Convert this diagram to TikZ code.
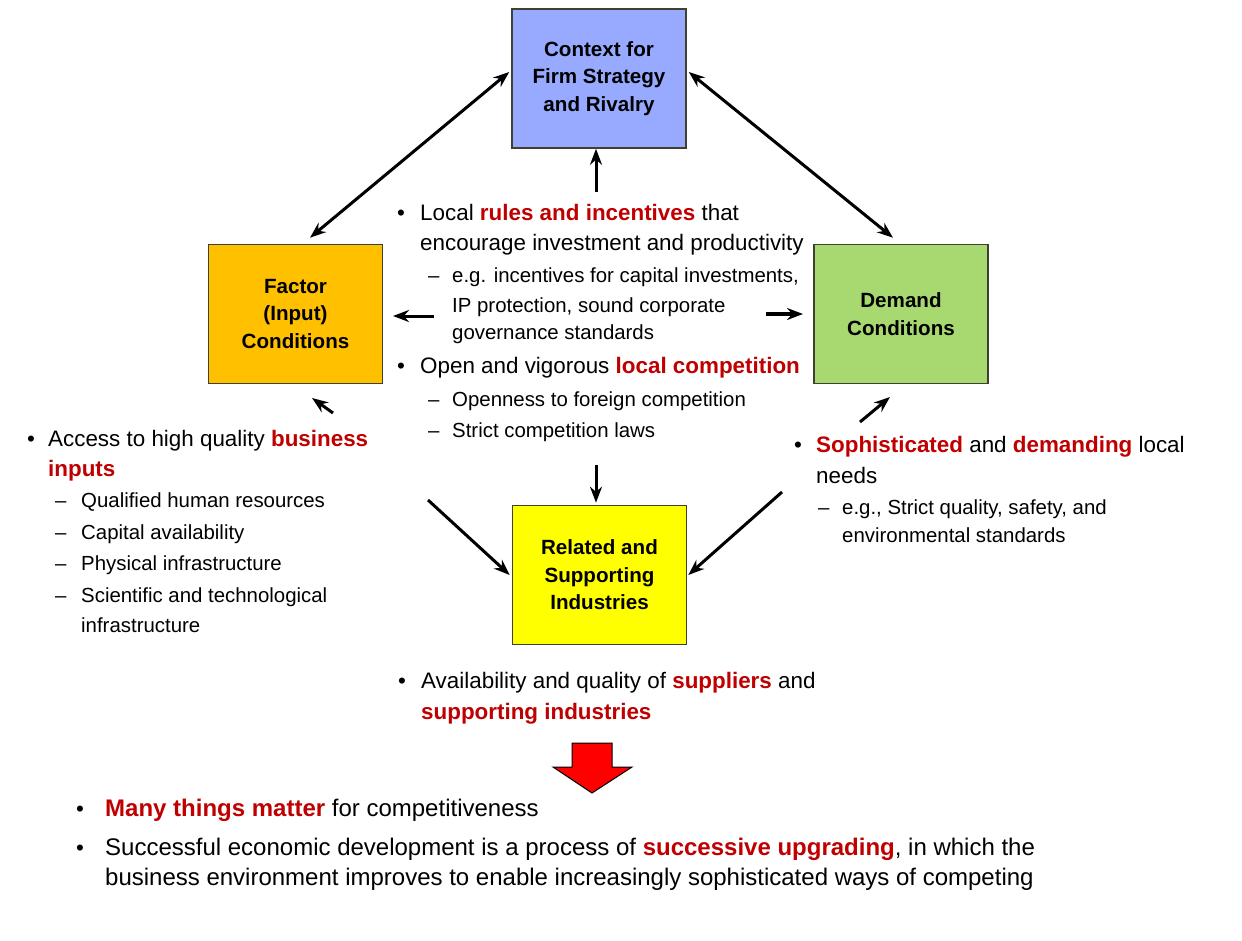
\documentclass[tikz,border=0pt]{standalone}
\usepackage{fontspec}
\setmainfont{Liberation Sans}
\usetikzlibrary{arrows.meta}
\definecolor{hlred}{RGB}{192,0,0}
\definecolor{ctxblue}{RGB}{151,170,255}
\definecolor{facorange}{RGB}{255,192,0}
\definecolor{demgreen}{RGB}{168,216,112}
\definecolor{relyellow}{RGB}{255,255,0}
\definecolor{boxline}{RGB}{64,64,48}
\newcommand{\redb}[1]{\textcolor{hlred}{\textbf{#1}}}
\begin{document}
\begin{tikzpicture}[x=1pt,y=-1pt,
  box/.style={draw=boxline, line width=1.6pt, align=center, inner sep=0pt,
    minimum width=174pt, minimum height=139pt,
    font=\fontsize{20.6}{27.5}\selectfont\bfseries},
  arr/.style={line width=3pt, -{Stealth[length=16pt,width=12pt]}},
  darr/.style={line width=3pt, {Stealth[length=16pt,width=12pt]}-{Stealth[length=16pt,width=12pt]}},
  tmain/.style={anchor=base west, inner sep=0pt, font=\fontsize{22.4}{27}\selectfont},
  tsub/.style={anchor=base west, inner sep=0pt, font=\fontsize{20.4}{25}\selectfont},
  tbot/.style={anchor=base west, inner sep=0pt, font=\fontsize{24}{29}\selectfont},
]
\useasboundingbox (0,0) rectangle (1242,940);

% boxes
\node[box, fill=ctxblue] (ctx) at (599,78.5) {Context for\\Firm Strategy\\and Rivalry};
\node[box, fill=facorange] (fac) at (295.5,314) {Factor\\(Input)\\Conditions};
\node[box, fill=demgreen] (dem) at (901,314) {Demand\\Conditions};
\node[box, fill=relyellow] (rel) at (599.5,575) {Related and\\Supporting\\Industries};

% free ends of connectors
\coordinate (upTail) at (596,192);
\coordinate (leftTail) at (434,316);
\coordinate (leftTip) at (393,316);
\coordinate (rightTail) at (766,314);
\coordinate (rightTip) at (803,314);
\coordinate (facTail) at (333,413);
\coordinate (facTip) at (312,398);
\coordinate (demTail) at (860,422);
\coordinate (demTip) at (890,397);
\coordinate (downTail) at (596,465);
\coordinate (ldTail) at (428,500);
\coordinate (rdTail) at (782,492);

% connectors
\draw[darr] ([xshift=14.5pt,yshift=6pt]fac.north) -- ([xshift=-2pt,yshift=6.5pt]ctx.west);
\draw[darr] ([xshift=2pt,yshift=6.5pt]ctx.east) -- ([xshift=-8pt,yshift=6pt]dem.north);
\draw[arr] (upTail) -- ([xshift=-3pt]ctx.south);
\draw[arr] (leftTail) -- (leftTip);
\draw[arr, line width=4.5pt] (rightTail) -- (rightTip);
\draw[arr] (facTail) -- (facTip);
\draw[arr] (demTail) -- (demTip);
\draw[arr] (downTail) -- ([xshift=-3.5pt,yshift=2pt]rel.north);
\draw[arr] (ldTail) -- ([xshift=-2pt]rel.west);
\draw[arr] (rdTail) -- ([xshift=1pt]rel.east);

% middle text
\node[tmain] (mb1) at (397,220) {\textbullet};
\node[tmain] (m1) at (420,220) {Local \redb{rules and incentives} that};
\node[tmain] (m2) at (420,250) {encourage investment and productivity};
\node[tsub] (md1) at (428,282) {–};
\node[tsub] (m3) at (452,282) {e.g. incentives for capital investments,};
\node[tsub] (m4) at (452,312) {IP protection, sound corporate};
\node[tsub] (m5) at (452,339) {governance standards};
\node[tmain] (mb2) at (397,373) {\textbullet};
\node[tmain] (m6) at (420,373) {Open and vigorous \redb{local competition}};
\node[tsub] (md2) at (428,406) {–};
\node[tsub] (m7) at (452,406) {Openness to foreign competition};
\node[tsub] (md3) at (428,437) {–};
\node[tsub] (m8) at (452,437) {Strict competition laws};

% left text
\node[tmain] (lb1) at (27,446) {\textbullet};
\node[tmain] (l1) at (48,446) {Access to high quality \redb{business}};
\node[tmain] (l2) at (48,476) {\redb{inputs}};
\node[tsub] (ld1) at (55,507) {–};
\node[tsub] (l3) at (81,507) {Qualified human resources};
\node[tsub] (ld2) at (55,539) {–};
\node[tsub] (l4) at (81,539) {Capital availability};
\node[tsub] (ld3) at (55,570) {–};
\node[tsub] (l5) at (81,570) {Physical infrastructure};
\node[tsub] (ld4) at (55,602) {–};
\node[tsub] (l6) at (81,602) {Scientific and technological};
\node[tsub] (l7) at (81,632) {infrastructure};

% right text
\node[tmain] (rb1) at (794,452) {\textbullet};
\node[tmain] (r1) at (816,452) {\redb{Sophisticated} and \redb{demanding} local};
\node[tmain] (r2) at (816,483) {needs};
\node[tsub] (rd1) at (818,514) {–};
\node[tsub] (r3) at (842,514) {e.g., Strict quality, safety, and};
\node[tsub] (r4) at (842,542) {environmental standards};

% bottom middle text
\node[tmain] (bb1) at (398,688) {\textbullet};
\node[tmain] (b1) at (421,688) {Availability and quality of \redb{suppliers} and};
\node[tmain] (b2) at (421,719) {\redb{supporting industries}};

% red arrow
\draw[fill=red, draw=black, line width=1pt, line join=miter]
  (572,743) -- (612,743) -- (612,767) -- (632,767) -- (592,793) -- (553,767) -- (572,767) -- cycle;

% bottom text
\node[tmain] (fb1) at (76,816) {\textbullet};
\node[tbot] (f1) at (105,816) {\redb{Many things matter} for competitiveness};
\node[tmain] (fb2) at (76,855) {\textbullet};
\node[tbot] (f2) at (105,855) {Successful economic development is a process of \redb{successive upgrading}, in which the};
\node[tbot] (f3) at (105,885) {business environment improves to enable increasingly sophisticated ways of competing};
\end{tikzpicture}
\end{document}
